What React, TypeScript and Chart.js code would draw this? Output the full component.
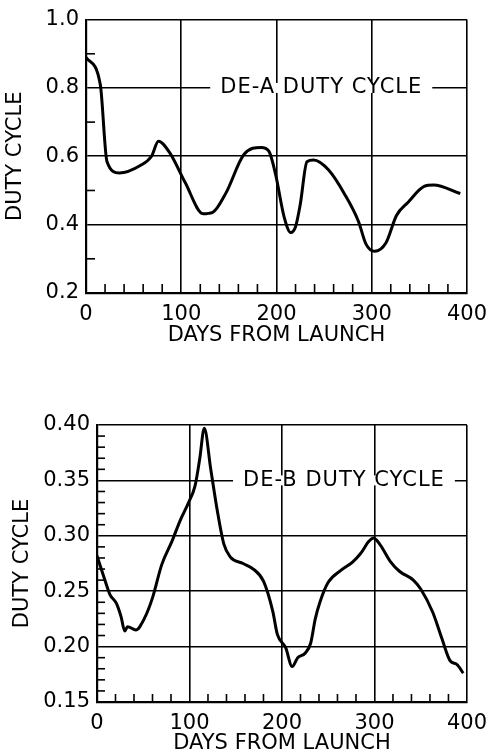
import React, { useEffect, useRef } from "react";
import { Chart, registerables } from "chart.js";

Chart.register(...registerables);

// ---- DE-A (top panel) ----
const topDays = [0, 15, 22, 35, 57, 69, 76, 88, 104, 123, 133, 147, 166, 184, 192, 199, 208, 215, 220, 225, 232, 239, 255, 272, 286, 294, 303, 315, 326, 338, 355, 365, 393];
const topDuty = [0.89, 0.81, 0.585, 0.551, 0.573, 0.601, 0.644, 0.61, 0.524, 0.432, 0.436, 0.493, 0.606, 0.626, 0.615, 0.548, 0.423, 0.377, 0.394, 0.46, 0.584, 0.589, 0.559, 0.487, 0.41, 0.343, 0.322, 0.347, 0.427, 0.465, 0.512, 0.516, 0.491];

// ---- DE-B (bottom panel) ----
const bottomDays = [0, 7, 14, 21, 26, 30, 33, 42, 51, 60, 70, 81, 90, 99, 106, 111, 116, 123, 130, 137, 144, 158, 169, 180, 190, 195, 204, 211, 217, 225, 231, 236, 241, 250, 264, 276, 285, 294, 299, 306, 317, 327, 342, 350, 363, 373, 382, 389, 396];
const bottomDuty = [0.282, 0.264, 0.247, 0.239, 0.227, 0.214, 0.218, 0.215, 0.225, 0.244, 0.274, 0.295, 0.314, 0.33, 0.345, 0.369, 0.397, 0.36, 0.323, 0.293, 0.281, 0.275, 0.27, 0.259, 0.232, 0.211, 0.199, 0.182, 0.19, 0.194, 0.203, 0.225, 0.24, 0.258, 0.269, 0.276, 0.284, 0.295, 0.298, 0.292, 0.277, 0.268, 0.26, 0.252, 0.231, 0.207, 0.187, 0.184, 0.176];

const xTitle = "DAYS FROM LAUNCH";
const yTitle = "DUTY CYCLE";
const topLabel = "DE-A DUTY CYCLE";
const bottomLabel = "DE-B DUTY CYCLE";

const FONT = '"DejaVu Sans", sans-serif';

const decorPlugin = {
  id: "decor",
  beforeDatasetsDraw(chart: any, _args: any, o: any) {
    const { ctx, chartArea } = chart;
    const x = chart.scales.x;
    const y = chart.scales.y;
    ctx.save();
    ctx.strokeStyle = "#000";
    ctx.lineWidth = 1.6;
    // minor x ticks (inward)
    const nx = Math.round((o.xMax - o.xMin) / o.xMinor);
    for (let i = 1; i < nx; i++) {
      const v = o.xMin + i * o.xMinor;
      const r = v / o.xMajor;
      if (Math.abs(r - Math.round(r)) < 1e-6) continue;
      const px = x.getPixelForValue(v);
      ctx.beginPath();
      ctx.moveTo(px, chartArea.bottom);
      ctx.lineTo(px, chartArea.bottom - o.tickLen);
      ctx.stroke();
    }
    // minor y ticks (inward)
    const ny = Math.round((o.yMax - o.yMin) / o.yMinor);
    for (let i = 1; i < ny; i++) {
      const v = o.yMin + i * o.yMinor;
      const r = (i * o.yMinor) / o.yMajor;
      if (Math.abs(r - Math.round(r)) < 1e-6) continue;
      const py = y.getPixelForValue(v);
      ctx.beginPath();
      ctx.moveTo(chartArea.left, py);
      ctx.lineTo(chartArea.left + o.tickLen, py);
      ctx.stroke();
    }
    // in-plot label breaking a grid line
    ctx.font = `21px ${FONT}`;
    (ctx as any).letterSpacing = "1px";
    const w = ctx.measureText(o.text).width;
    const cx = x.getPixelForValue(o.labelX);
    const cy = y.getPixelForValue(o.labelY);
    ctx.fillStyle = "#fff";
    ctx.fillRect(cx - w / 2 - 10, cy - 5, w + 20, 10);
    ctx.fillStyle = "#000";
    ctx.textAlign = "center";
    ctx.textBaseline = "middle";
    ctx.fillText(o.text, cx, cy);
    ctx.restore();
  },
};

interface PanelCfg {
  days: number[];
  duty: number[];
  yMin: number;
  yMax: number;
  yStep: number;
  yMinor: number;
  decimals: number;
  text: string;
  labelX: number;
  labelY: number;
  height: number;
  padTop: number;
  padRight: number;
  yWidth: number;
  xHeight: number;
  xTitlePad: number;
  yTitlePad: number;
  tickLen: number;
}

function Panel({ cfg, top }: { cfg: PanelCfg; top: number }) {
  const ref = useRef<HTMLCanvasElement | null>(null);
  useEffect(() => {
    if (!ref.current) return;
    const pts = cfg.days.map((d, i) => ({ x: d, y: cfg.duty[i] }));
    const chart = new Chart(ref.current, {
      type: "line",
      data: {
        datasets: [
          {
            data: pts,
            borderColor: "#000",
            borderWidth: 3,
            pointRadius: 0,
            fill: false,
            cubicInterpolationMode: "monotone",
          },
        ],
      },
      plugins: [decorPlugin],
      options: {
        animation: false,
        responsive: false,
        devicePixelRatio: 1,
        events: [],
        layout: { padding: { top: cfg.padTop, right: cfg.padRight, left: 0, bottom: 0 } },
        plugins: {
          legend: { display: false },
          tooltip: { enabled: false },
          decor: {
            xMin: 0,
            xMax: 400,
            xMinor: 20,
            xMajor: 100,
            yMin: cfg.yMin,
            yMax: cfg.yMax,
            yMinor: cfg.yMinor,
            yMajor: cfg.yStep,
            tickLen: cfg.tickLen,
            text: cfg.text,
            labelX: cfg.labelX,
            labelY: cfg.labelY,
          },
        } as any,
        scales: {
          x: {
            type: "linear",
            min: 0,
            max: 400,
            ticks: {
              stepSize: 100,
              autoSkip: false,
              maxRotation: 0,
              padding: 9,
              color: "#000",
              font: { family: FONT, size: 21 },
              callback: (v: any) => String(Math.round(Number(v))),
            },
            grid: { color: "#000", lineWidth: 1.6, drawTicks: false },
            border: { display: true, color: "#000", width: 2.2 },
            title: {
              display: true,
              text: xTitle,
              color: "#000",
              font: { family: FONT, size: 21 },
              padding: { top: 0, bottom: cfg.xTitlePad },
            },
            afterFit: (s: any) => {
              s.height = cfg.xHeight;
            },
          },
          y: {
            type: "linear",
            min: cfg.yMin,
            max: cfg.yMax,
            ticks: {
              stepSize: cfg.yStep,
              autoSkip: false,
              padding: 7,
              color: "#000",
              font: { family: FONT, size: 21 },
              callback: (v: any) => Number(v).toFixed(cfg.decimals),
            },
            grid: { color: "#000", lineWidth: 1.6, drawTicks: false },
            border: { display: true, color: "#000", width: 2.2 },
            title: {
              display: true,
              text: yTitle,
              color: "#000",
              font: { family: FONT, size: 21 },
              padding: { top: cfg.yTitlePad, bottom: 0 },
            },
            afterFit: (s: any) => {
              s.width = cfg.yWidth;
            },
          },
        },
      } as any,
    });
    return () => chart.destroy();
  }, [cfg]);
  return (
    <div style={{ position: "absolute", left: 0, top, width: 496, height: cfg.height }}>
      <canvas ref={ref} width={496} height={cfg.height} style={{ display: "block" }} />
    </div>
  );
}

const topCfg: PanelCfg = {
  days: topDays,
  duty: topDuty,
  yMin: 0.2,
  yMax: 1.0,
  yStep: 0.2,
  yMinor: 0.1,
  decimals: 1,
  text: topLabel,
  labelX: 247,
  labelY: 0.8,
  height: 365,
  padTop: 15,
  padRight: 26,
  yWidth: 86,
  xHeight: 72,
  xTitlePad: 17,
  yTitlePad: 3,
  tickLen: 9,
};

const bottomCfg: PanelCfg = {
  days: bottomDays,
  duty: bottomDuty,
  yMin: 0.15,
  yMax: 0.4,
  yStep: 0.05,
  yMinor: 0.01,
  decimals: 2,
  text: bottomLabel,
  labelX: 267,
  labelY: 0.35,
  height: 376,
  padTop: 45,
  padRight: 21,
  yWidth: 97,
  xHeight: 54,
  xTitlePad: 0,
  yTitlePad: 10,
  tickLen: 8,
};

export default function App() {
  return (
    <div style={{ position: "absolute", left: 0, top: 0, width: 496, height: 756, background: "#fff" }}>
      <Panel cfg={topCfg} top={0} />
      <Panel cfg={bottomCfg} top={380} />
    </div>
  );
}
